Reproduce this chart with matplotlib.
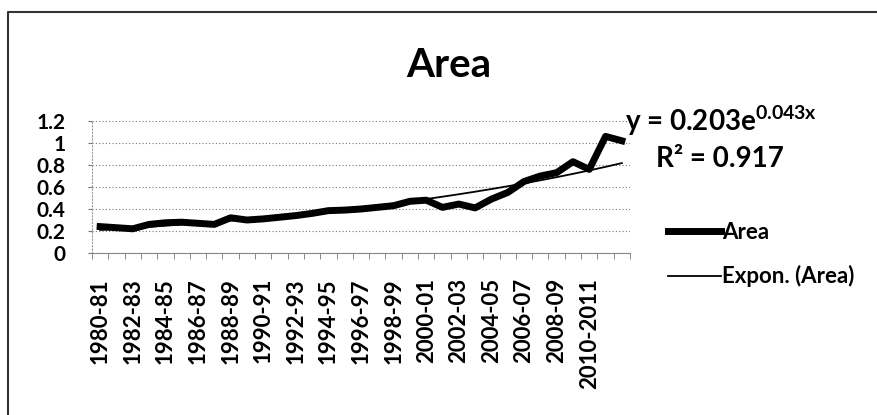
import numpy as np
import matplotlib
matplotlib.use("Agg")
import matplotlib.pyplot as plt
from matplotlib.lines import Line2D

plt.rcParams['font.family'] = ['Lato', 'DejaVu Sans']
plt.rcParams['font.weight'] = 'bold'
plt.rcParams['mathtext.fontset'] = 'custom'
plt.rcParams['mathtext.rm'] = 'Lato:bold'
plt.rcParams['mathtext.bf'] = 'Lato:bold'
plt.rcParams['mathtext.it'] = 'Lato:bold'

# area index, 1980-81 .. 2012-13
area = [0.24, 0.23, 0.22, 0.26, 0.275, 0.28, 0.27, 0.26, 0.32, 0.30,
        0.31, 0.325, 0.34, 0.36, 0.385, 0.39, 0.40, 0.415, 0.43, 0.47,
        0.48, 0.415, 0.445, 0.41, 0.49, 0.55, 0.65, 0.70, 0.73, 0.83,
        0.76, 1.06, 1.02]
tick_labels = ['1980-81', '1982-83', '1984-85', '1986-87', '1988-89',
               '1990-91', '1992-93', '1994-95', '1996-97', '1998-99',
               '2000-01', '2002-03', '2004-05', '2006-07', '2008-09',
               '2010-2011']
y_ticks = [0, 0.2, 0.4, 0.6, 0.8, 1, 1.2]
y_tick_labels = ['0', '0.2', '0.4', '0.6', '0.8', '1', '1.2']

W, H = 878, 415
fig = plt.figure(figsize=(W / 100, H / 100), dpi=100)
ax = fig.add_axes([92 / W, 1 - 253 / H, (630 - 92) / W, (253 - 121) / H])

x = np.arange(len(area))
ax.plot(x, area, color='black', lw=5, solid_joinstyle='round', label='Area')

# exponential trendline fitted on 1..n like Excel does
xn = x + 1
b, lna = np.polyfit(xn, np.log(area), 1)
trend = np.exp(lna) * np.exp(b * xn)
ax.plot(x, trend, color='black', lw=1.3, label='Expon. (Area)')

ax.set_xlim(-0.5, len(area) - 0.5)
ax.set_ylim(0, 1.2)
ax.set_yticks(y_ticks)
ax.set_yticklabels(y_tick_labels, fontsize=15)
ax.set_xticks(np.arange(0, 31, 2))
ax.set_xticklabels(tick_labels, rotation=90, fontsize=16, va='top')
ax.set_xticks(np.arange(len(area) + 1) - 0.5, minor=True)
ax.tick_params(axis='x', which='major', length=0, pad=18)
ax.tick_params(axis='x', which='minor', length=4, color='#777777', direction='out')
ax.tick_params(axis='y', length=3, color='#777777', pad=16)
ax.grid(axis='y', color='#777777', lw=0.8, linestyle=(0, (1, 2)))
ax.set_axisbelow(True)
for s in ['top', 'right']:
    ax.spines[s].set_visible(False)
ax.spines['left'].set_color('#999999')
ax.spines['left'].set_linestyle((0, (1, 2)))
ax.spines['bottom'].set_color('#888888')
ax.spines['bottom'].set_linewidth(0.8)

fig.text(449 / W, 1 - 77 / H, 'Area', fontsize=29, fontweight='bold',
         ha='center', va='baseline')
fig.text(625 / W, 1 - 131 / H, r'y = 0.203e$^{0.043x}$', fontsize=20,
         fontweight='bold', ha='left', va='baseline')
fig.text(720 / W, 1 - 167 / H, 'R² = 0.917', fontsize=20,
         fontweight='bold', ha='center', va='baseline')

fig.legend(loc='upper left', bbox_to_anchor=(668 / W, 1 - 222 / H),
           frameon=False, fontsize=16, handlelength=2.4, handletextpad=0.05,
           labelspacing=1.0, borderpad=0, borderaxespad=0)

# chart area border (left and top visible)
fig.add_artist(Line2D([8 / W, 8 / W, 1], [0, 1 - 12 / H, 1 - 12 / H],
                      transform=fig.transFigure, color='#333333', lw=1.5))

fig.savefig('out.png', dpi=100)
